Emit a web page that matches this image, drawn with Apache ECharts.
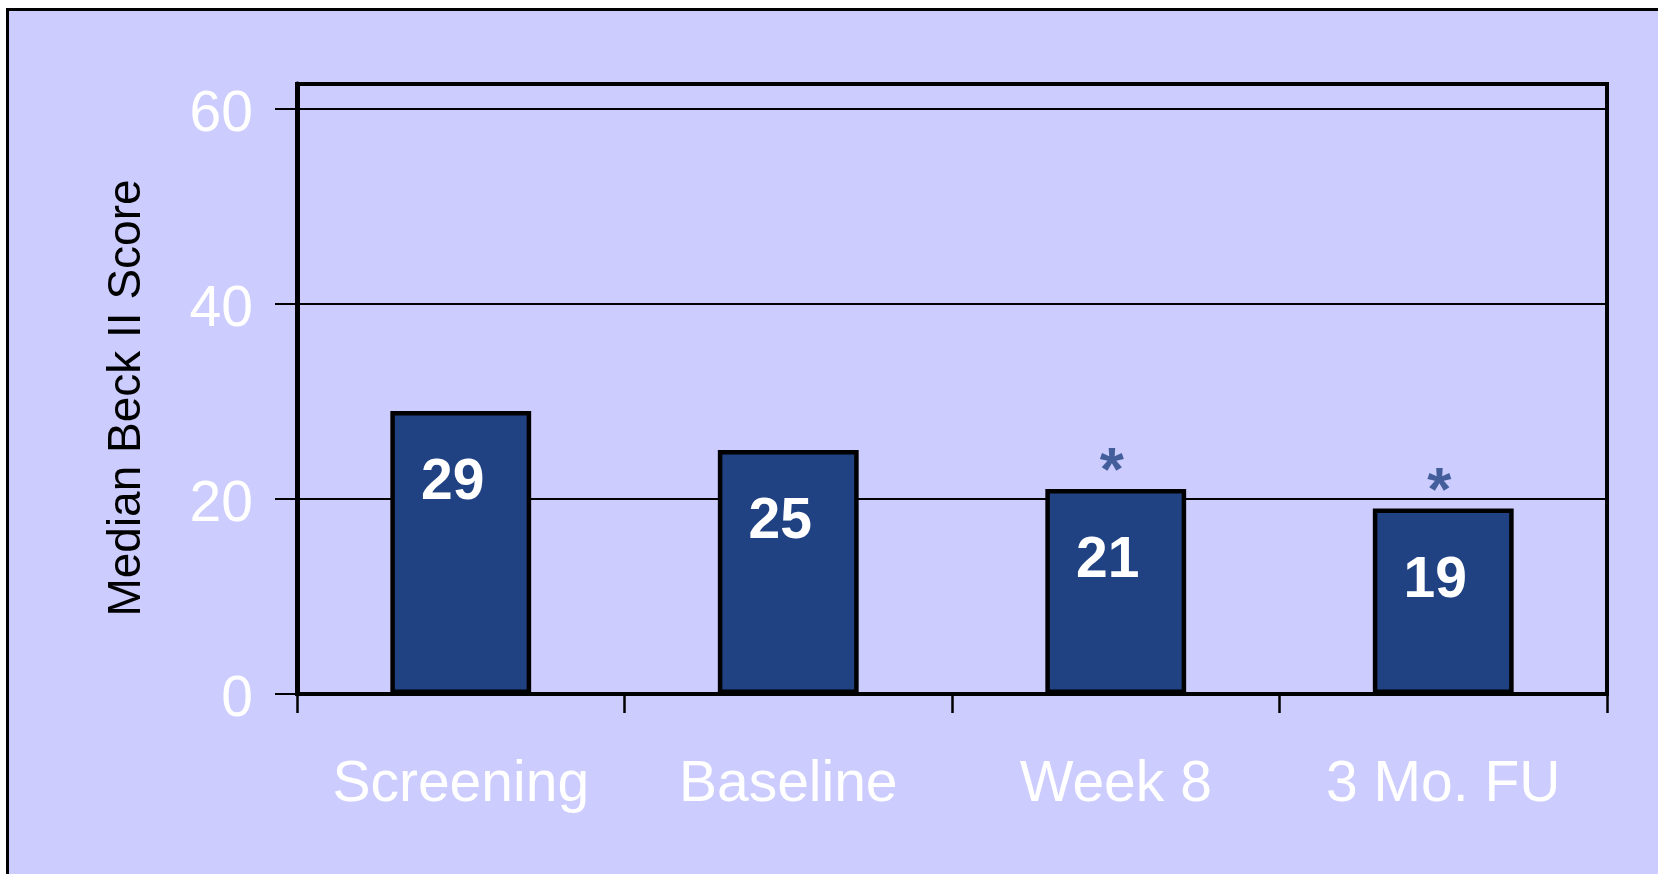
<!DOCTYPE html>
<html>
<head>
<meta charset="utf-8">
<script src="https://cdn.jsdelivr.net/npm/echarts@6/dist/echarts.min.js"></script>
<style>
  html, body { margin: 0; padding: 0; background: #ffffff; }
  #chart { width: 1658px; height: 874px; }
</style>
</head>
<body>
<div id="chart"></div>
<script>
const categories = ['Screening', 'Baseline', 'Week 8', '3 Mo. FU'];
const medianScores = [29, 25, 21, 19];
const significant = [false, false, true, true];
const yTicks = [0, 20, 40, 60];
const yAxisTitle = 'Median Beck II Score';

const FONT = '"Liberation Sans", Arial, Helvetica, sans-serif';

const chart = echarts.init(document.getElementById('chart'), null, { renderer: 'canvas' });

const markerData = medianScores.map((v, i) => significant[i] ? v : null);

chart.setOption({
  backgroundColor: '#ffffff',
  animation: false,
  graphic: {
    elements: [{
      type: 'rect',
      z: -100,
      silent: true,
      shape: { x: 7.5, y: 9.5, width: 1700, height: 1000 },
      style: { fill: '#CCCCFF', stroke: '#000000', lineWidth: 3 }
    }]
  },
  grid: {
    left: 297, right: 51, top: 84, bottom: 180,
    show: true,
    backgroundColor: '#CCCCFF',
    borderColor: '#000000',
    borderWidth: 4,
    containLabel: false
  },
  xAxis: {
    type: 'category',
    data: categories,
    boundaryGap: true,
    axisLine: { show: true, lineStyle: { color: '#000', width: 4 } },
    axisTick: { show: true, interval: 0, length: 19, lineStyle: { color: '#000', width: 2.5 } },
    axisLabel: {
      interval: 0, color: '#ffffff', fontFamily: FONT, fontSize: 57, margin: 63
    },
    splitLine: { show: false }
  },
  yAxis: {
    type: 'value',
    min: 0, max: 62.5, interval: 20,
    name: yAxisTitle,
    nameLocation: 'middle',
    nameGap: 147,
    nameRotate: 90,
    nameTextStyle: { color: '#000000', fontFamily: FONT, fontSize: 46, padding: [0, 0, 0, -18] },
    axisLine: { show: true, lineStyle: { color: '#000', width: 5 } },
    axisTick: { show: true, length: 22, customValues: yTicks, lineStyle: { color: '#000', width: 2 } },
    axisLabel: {
      customValues: yTicks,
      color: '#ffffff', fontFamily: FONT, fontSize: 57, margin: 44,
      formatter: v => '{l|' + v + '}',
      rich: {
        l: { color: '#ffffff', fontFamily: FONT, fontSize: 57, padding: [13, 0, 0, 0] }
      }
    },
    splitLine: { show: true, lineStyle: { color: '#000', width: 2 } }
  },
  series: [{
    type: 'bar',
    data: medianScores,
    barWidth: '43%',
    itemStyle: { color: '#214282', borderColor: '#000000', borderWidth: 4.5 },
    label: {
      show: true,
      position: 'insideTop',
      distance: 44,
      offset: [-8, 0],
      color: '#ffffff',
      fontFamily: FONT,
      fontWeight: 'bold',
      fontSize: 57
    },
    z: 3
  }, {
    type: 'scatter',
    data: markerData,
    symbolSize: 0,
    silent: true,
    label: {
      show: true,
      position: 'top',
      distance: 0,
      offset: [-4, 15],
      formatter: '*',
      color: '#214282',
      fontFamily: FONT,
      fontWeight: 'bold',
      fontSize: 62
    },
    z: 4
  }]
});
</script>
</body>
</html>
